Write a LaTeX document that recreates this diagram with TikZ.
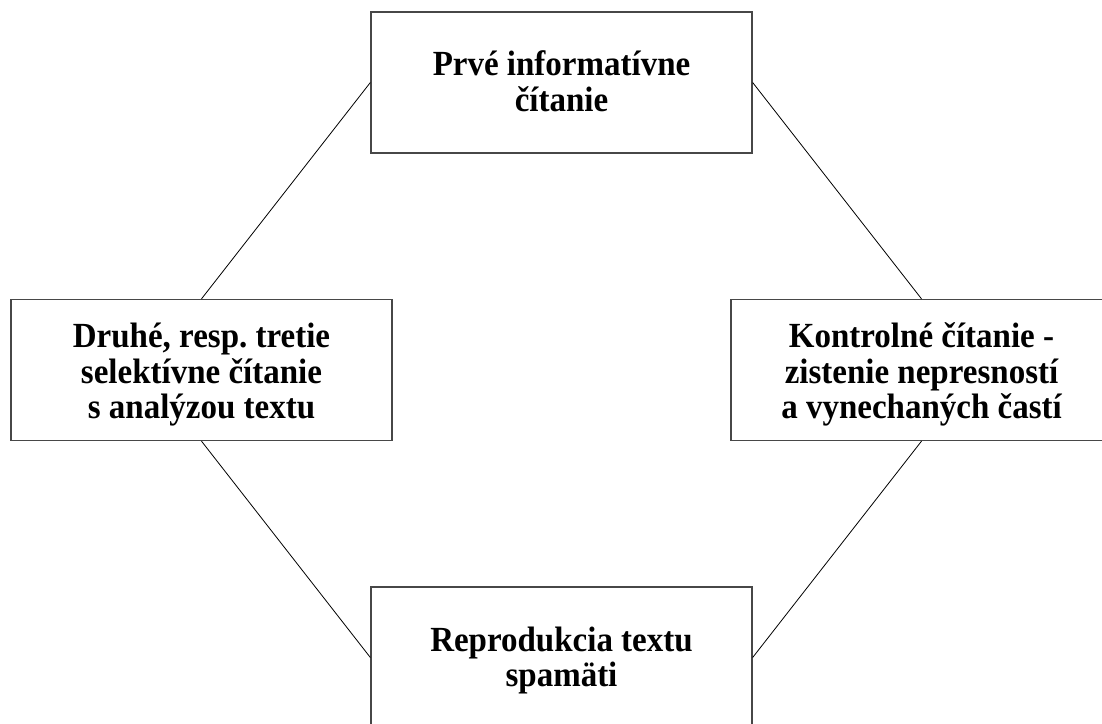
\documentclass[tikz,border=0pt]{standalone}
\usepackage{fontspec}
\setmainfont{Liberation Serif}
\newcommand{\stagetext}[2]{\raisebox{-#1}[\height][\depth]{\scalebox{1}[1.07]{\fontsize{33}{32.7}\selectfont\bfseries\frenchspacing\begin{tabular}{@{}c@{}}#2\end{tabular}}}}
\begin{document}
\begin{tikzpicture}[x=1pt,y=-1pt,
  stagebox/.style={draw=black!72, line width=1.3pt, fill=white, minimum width=381pt, minimum height=141pt,
    inner sep=0pt, align=center},
  link/.style={draw=black, line width=0.8pt}]
\useasboundingbox (0,0) rectangle (1102,723);
\clip (0,0) rectangle (1102,723);
\fill[white] (0,0) rectangle (1102,723);
\node[stagebox] (top) at (561.5,82.5) {\stagetext{4pt}{Prvé informatívne\\čítanie}};
\node[stagebox] (left) at (201.5,370) {\stagetext{6pt}{Druhé, resp. tretie\\selektívne čítanie\\s analýzou textu}};
\node[stagebox] (right) at (921.5,370) {\stagetext{6pt}{Kontrolné čítanie -\\zistenie nepresností\\a vynechaných častí}};
\node[stagebox] (bottom) at (561.5,657.5) {\stagetext{4pt}{Reprodukcia textu\\spamäti}};
\draw[link] (left.north) -- (top.west);
\draw[link] (top.east) -- (right.north);
\draw[link] (right.south) -- (bottom.east);
\draw[link] (bottom.west) -- (left.south);
\end{tikzpicture}
\end{document}
